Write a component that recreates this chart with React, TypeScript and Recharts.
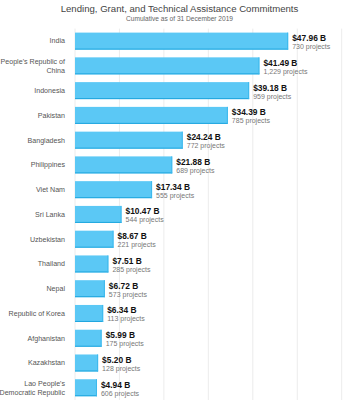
import { BarChart, Bar, XAxis, YAxis, CartesianGrid, LabelList } from 'recharts'

const countries = [
  'India',
  "People's Republic of China",
  'Indonesia',
  'Pakistan',
  'Bangladesh',
  'Philippines',
  'Viet Nam',
  'Sri Lanka',
  'Uzbekistan',
  'Thailand',
  'Nepal',
  'Republic of Korea',
  'Afghanistan',
  'Kazakhstan',
  "Lao People's Democratic Republic",
]

// wrapped tick lines for the long names
const tickLines: Record<string, string[]> = {
  "People's Republic of China": ["People's Republic of", 'China'],
  "Lao People's Democratic Republic": ["Lao People's", 'Democratic Republic'],
}

const commitments = [47.96, 41.49, 39.18, 34.39, 24.24, 21.88, 17.34, 10.47, 8.67, 7.51, 6.72, 6.34, 5.99, 5.2, 4.94]
const projects = [730, 1229, 959, 785, 772, 689, 555, 544, 221, 285, 573, 113, 175, 128, 606]
const xTicks = [0, 10, 20, 30, 40, 50, 60]

const data = countries.map((name, i) => ({
  name,
  value: commitments[i],
  projects: projects[i],
}))

const FONT = '"Liberation Sans", Arial, sans-serif'

function CountryTick(props: any) {
  const { x, y, payload } = props
  const lines = tickLines[payload.value] ?? [payload.value]
  const start = 2.5 - ((lines.length - 1) * 9) / 2
  return (
    <text x={x} y={y} textAnchor="end" fill="#555" fontSize={7.1} fontFamily={FONT}>
      {lines.map((l, i) => (
        <tspan key={i} x={x} dy={i === 0 ? start : 9}>
          {l}
        </tspan>
      ))}
    </text>
  )
}

function BarShape(props: any) {
  const { x, y, width, height } = props
  return (
    <g>
      <rect x={x} y={y} width={width} height={height} fill="#5BC8F5" />
      <line x1={x} y1={y + height - 0.5} x2={x + width} y2={y + height - 0.5} stroke="#1FA6DE" />
      <line x1={x + width - 0.5} y1={y} x2={x + width - 0.5} y2={y + height} stroke="#3CB8EC" />
    </g>
  )
}

function ValueLabel(props: any) {
  const { x, y, width, height, index } = props
  const cx = x + width + 4
  const cy = y + height / 2
  return (
    <g fontFamily={FONT}>
      <text x={cx} y={cy} fontSize={8.4} fontWeight="bold" fill="#111">
        {`$${commitments[index].toFixed(2)} B`}
      </text>
      <text x={cx} y={cy + 8} fontSize={7} fill="#777">
        {`${projects[index].toLocaleString('en-US')} projects`}
      </text>
    </g>
  )
}

export default function App() {
  return (
    <div style={{ position: 'absolute', left: 0, top: 0, width: 359, height: 400, background: '#fff' }}>
      <div
        style={{
          position: 'absolute',
          top: 3,
          width: 359,
          textAlign: 'center',
          fontFamily: FONT,
          fontSize: 9.6,
          color: '#444',
          lineHeight: '12px',
        }}
      >
        Lending, Grant, and Technical Assistance Commitments
      </div>
      <div
        style={{
          position: 'absolute',
          top: 14,
          width: 359,
          textAlign: 'center',
          fontFamily: FONT,
          fontSize: 6.6,
          color: '#666',
          lineHeight: '9px',
        }}
      >
        Cumulative as of 31 December 2019
      </div>
      <BarChart
        width={359}
        height={400}
        data={data}
        layout="vertical"
        margin={{ top: 28.6, right: 17.3, bottom: 0, left: 0 }}
        barCategoryGap={4}
      >
        <CartesianGrid horizontal={false} stroke="#ececec" />
        <XAxis type="number" domain={[0, 60]} ticks={xTicks} hide />
        <YAxis
          type="category"
          dataKey="name"
          width={75}
          tickLine={false}
          axisLine={false}
          tickMargin={4}
          interval={0}
          tick={<CountryTick />}
        />
        <Bar dataKey="value" isAnimationActive={false} shape={<BarShape />}>
          <LabelList dataKey="value" content={<ValueLabel />} />
        </Bar>
      </BarChart>
    </div>
  )
}
